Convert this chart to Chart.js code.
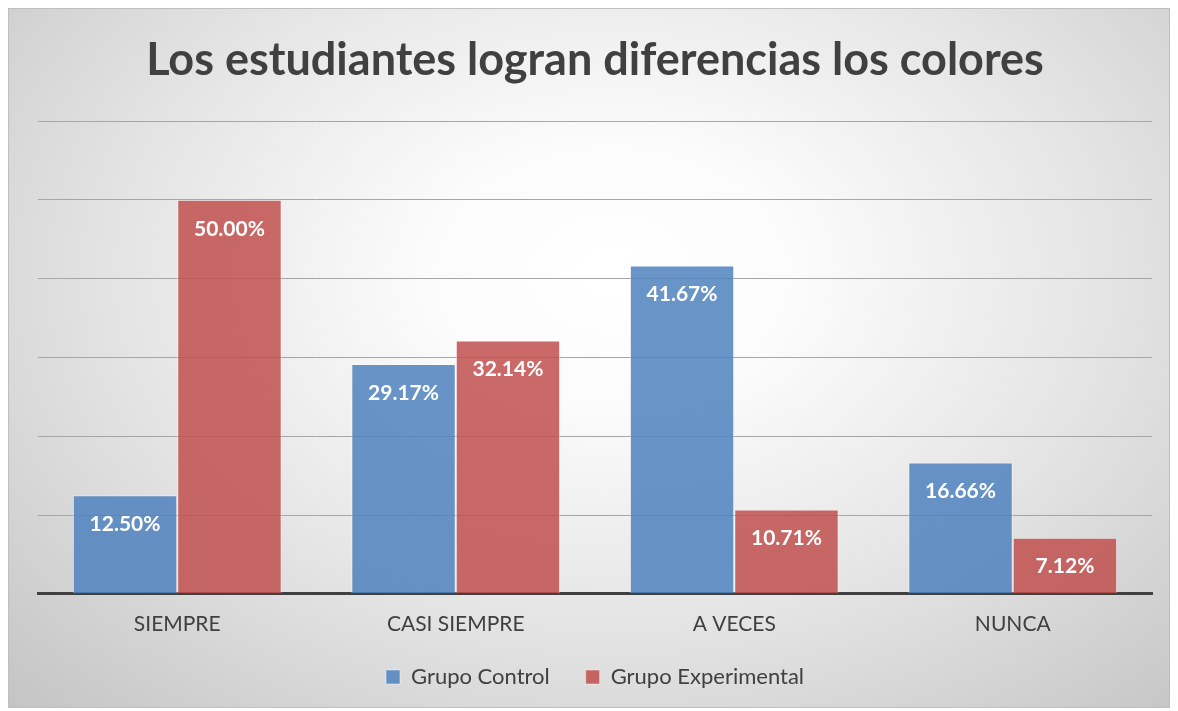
<!DOCTYPE html>
<html>
<head>
<meta charset="utf-8">
<script src="https://cdn.jsdelivr.net/npm/chart.js@4/dist/chart.umd.min.js"></script>
<style>
    html, body { margin: 0; padding: 0; background: #ffffff; }
    #frame {
        position: absolute; left: 8px; top: 8px; width: 1162px; height: 700px;
        border: 1px solid #bfbfbf; box-sizing: border-box;
        background: radial-gradient(ellipse farthest-corner at 52% 38%, #ffffff 0%, #fbfbfb 22%, #e4e4e4 58%, #c4c4c4 100%);
    }
    #chart { display: block; }
</style>
</head>
<body>
<div id="frame"><canvas id="chart" width="1160" height="698"></canvas></div>
<script>
const categories = ['SIEMPRE', 'CASI SIEMPRE', 'A VECES', 'NUNCA'];
const controlValues = [12.50, 29.17, 41.67, 16.66];
const experimentalValues = [50.00, 32.14, 10.71, 7.12];
const seriesNames = ['Grupo Control', 'Grupo Experimental'];

// white percentage labels inside the top of each bar
const barLabels = {
    id: 'barLabels',
    afterDatasetsDraw(chart) {
        const ctx = chart.ctx;
        ctx.save();
        ctx.fillStyle = '#ffffff';
        ctx.font = 'bold 21px Lato';
        ctx.textAlign = 'center';
        ctx.textBaseline = 'middle';
        chart.data.datasets.forEach(function (ds, i) {
            chart.getDatasetMeta(i).data.forEach(function (bar, j) {
                ctx.fillText(ds.data[j].toFixed(2) + '%', bar.x, bar.y + 29);
            });
        });
        ctx.restore();
    }
};

new Chart(document.getElementById('chart').getContext('2d'), {
    type: 'bar',
    data: {
        labels: categories,
        datasets: [{
            label: seriesNames[0],
            data: controlValues,
            backgroundColor: 'rgba(79,129,189,0.85)',
            borderColor: 'rgba(255,255,255,0.45)',
            borderWidth: 1
        }, {
            label: seriesNames[1],
            data: experimentalValues,
            backgroundColor: 'rgba(192,80,77,0.85)',
            borderColor: 'rgba(255,255,255,0.45)',
            borderWidth: 1
        }]
    },
    options: {
        responsive: false,
        animation: false,
        categoryPercentage: 0.75,
        barPercentage: 1.0,
        layout: {padding: {left: 29, right: 17, top: 0, bottom: 9}},
        scales: {
            y: {
                min: 0, max: 60,
                ticks: {display: false, stepSize: 10},
                border: {display: false},
                grid: {color: '#a6a6a6', lineWidth: 1, drawTicks: false}
            },
            x: {
                grid: {display: false},
                border: {color: '#404040', width: 3},
                ticks: {color: '#404040', font: {family: 'Lato', size: 21}, padding: 10}
            }
        },
        plugins: {
            title: {
                display: true,
                text: 'Los estudiantes logran diferencias los colores',
                color: '#404040',
                font: {family: 'Lato', size: 45, weight: 'bold'},
                padding: {top: 24, bottom: 34}
            },
            legend: {
                position: 'bottom',
                labels: {
                    color: '#404040',
                    font: {family: 'Lato', size: 22},
                    boxWidth: 14, boxHeight: 14,
                    padding: 19,
                    // wider gap between the two entries, as in the original
                    generateLabels(chart) {
                        const items = Chart.defaults.plugins.legend.labels.generateLabels(chart);
                        items[0].text = items[0].text + '   ';
                        return items;
                    }
                }
            },
            tooltip: {enabled: false}
        }
    },
    plugins: [barLabels]
});
</script>
</body>
</html>
